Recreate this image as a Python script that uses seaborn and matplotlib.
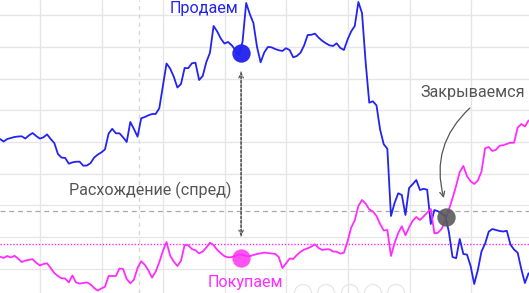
import numpy as np
import pandas as pd
import matplotlib
matplotlib.use("Agg")
import matplotlib.pyplot as plt
import seaborn as sns

# ---- data (time index, two price series in chart units) ----
sell_series = [154, 151.5, 154, 155, 156, 156.5, 156.7, 154.5, 157.6, 160,
               157, 154.4, 155.7, 158.6, 154, 150, 139, 135.4, 135.1, 129.3,
               130.6, 131.3, 131.3, 127.3, 127.5, 129.8, 135.4, 138.4, 140.6, 143.6,
               159.4, 164.2, 159.7, 159.7, 155.7, 151, 171, 164, 156.3, 174.7,
               176, 177.7, 179, 179, 184.7, 207, 229.5, 224.5, 216.3, 205.5,
               209, 225, 224.8, 229.7, 230.3, 213, 217, 231, 240.3, 267,
               261.5, 254.4, 249.5, 251, 247.8, 242.9, 238.1, 251.2, 290, 279,
               270, 246, 230.7, 240.6, 246, 245.7, 244, 242.8, 242, 244.8,
               243, 235.7, 237, 240.2, 247.5, 258, 258.2, 259.4, 255.4, 252.2,
               249.8, 247.7, 247, 249.7, 245.1, 243, 253.3, 261.5, 267, 291,
               280, 231, 190.3, 191.7, 187.6, 163.4, 148.8, 144.2, 77, 90,
               99.7, 98, 78, 105, 108.8, 113, 103, 104.2, 103.3, 69,
               83, 81.7, 79.3, 77.2, 61, 36, 34.8, 54, 39, 38.4,
               27, 9, 23, 41.5, 49.3, 61.3, 64, 63, 62, 61.5,
               62.2, 48.5, 43.5, 40.3, 24, 10, 19.7]

buy_series = [36.3, 35.1, 37, 35.5, 37.2, 34.5, 31, 32.4, 33.2, 33.8,
              30.3, 27.5, 29, 29.7, 25, 20, 17, 14.7, 14.5, 10.5,
              17.5, 10.5, 9.4, 10, 10.6, 8.7, 5, 2.5, 4.5, 6.3,
              17, 17, 17, 24.5, 24, 14, 9.7, 13.3, 25, 31.8,
              28.2, 22.5, 15.4, 21.4, 30.8, 42, 51, 37.4, 31.4, 27,
              32.2, 48, 47.7, 44, 42.7, 39.6, 41.5, 45.5, 50.3, 47.8,
              43.2, 39.8, 36.8, 35.6, 35.9, 37, 38.6, 38.2, 37, 36.8,
              38, 39, 39.7, 40.4, 40, 39.6, 39.1, 36, 25, 29.5,
              34.5, 34, 38, 41.1, 43.4, 44.7, 46.4, 48.7, 45, 43,
              43.7, 43.7, 41.5, 41.3, 39.4, 40.3, 51.4, 65.3, 72.7, 87,
              93, 89.4, 83.5, 81.6, 77, 69, 62.5, 63, 37, 50,
              60, 66.7, 57.8, 65.5, 72.3, 76, 73, 76.5, 80.4, 84,
              59.6, 60.3, 64.2, 72.6, 83.3, 94.7, 107.2, 121, 127, 117,
              111.7, 109, 112.5, 121.3, 144.7, 146, 142, 143.2, 147.3, 147.8,
              149, 150.3, 150.3, 165.4, 169, 166.5, 172.5]

t = np.arange(len(sell_series))

label_sell = "Продаем"
label_buy = "Покупаем"
label_spread = "Расхождение (спред)"
label_close = "Закрываемся"

# key moments (time index, level)
open_t = 66.6
open_sell, open_buy = 240, 35.5
close_t = 123.3
close_level = 76.5
spread_level = 82      # grey dashed reference
buy_level = 49         # magenta dotted reference
cursor_t = 38.4        # faint dashed vertical cursor

df = pd.DataFrame({"t": np.concatenate([t, t]),
                   "v": np.concatenate([sell_series, buy_series]),
                   "s": [label_sell] * len(t) + [label_buy] * len(t)})

BLUE = "#2323f2"
MAGENTA = "#ff2cff"
GREY = "#555555"

sns.set_style("white")
plt.rcParams["font.family"] = ["Roboto", "DejaVu Sans"]

fig = plt.figure(figsize=(5.29, 2.93), dpi=100)
ax = fig.add_axes([0, 0, 1, 1])
ax.set_xlim(0, 146.13)
ax.set_ylim(0, 293)

# grid
for gx in np.arange(11.05, 146, 17.02):
    ax.axvline(gx, color="#e6e6e6", lw=1.0, zorder=0)
for gy in np.arange(24.5, 293, 31.65):
    ax.axhline(gy, color="#e6e6e6", lw=1.0, zorder=0)
ax.axvline(cursor_t, color="#d8d8d8", lw=1.0, ls=(0, (3, 3)), zorder=0)
ax.axhline(spread_level, color="#a8a8a8", lw=0.9, ls=(0, (4, 3)), zorder=1)
ax.axhline(buy_level, color=MAGENTA, lw=1.0, ls=(0, (1, 1.3)), zorder=1)

sns.lineplot(data=df, x="t", y="v", hue="s", palette={label_sell: BLUE, label_buy: MAGENTA},
             lw=1.3, ax=ax, legend=False, zorder=3, estimator=None, sort=False)

# dots
ax.scatter([open_t], [open_sell], s=175, color="#2020ee", alpha=0.95, zorder=2, lw=0)
ax.scatter([open_t], [open_buy], s=175, color="#ff40f0", alpha=0.9, zorder=2, lw=0)
ax.scatter([close_t], [close_level], s=175, color="#5a5a5a", alpha=0.9, zorder=4, lw=0)

# vertical spread arrow
ax.annotate("", xy=(open_t, 221), xytext=(open_t, 57),
            arrowprops=dict(arrowstyle="->", color=GREY, lw=0.9, ls=(0, (2, 1.5)),
                            shrinkA=0, shrinkB=0, mutation_scale=8))
ax.annotate("", xy=(open_t, 57), xytext=(open_t, 221),
            arrowprops=dict(arrowstyle="->", color=GREY, lw=0.9, ls=(0, (2, 1.5)),
                            shrinkA=0, shrinkB=0, mutation_scale=8))

# curved arrow to closing point
ax.annotate("", xy=(122.6, 95), xytext=(129.8, 185),
            arrowprops=dict(arrowstyle="->", color=GREY, lw=0.9,
                            connectionstyle="arc3,rad=0.3", shrinkA=0, shrinkB=0,
                            mutation_scale=9))

# texts
fs = 11.6
ax.text(56.4, 285, label_sell, color=BLUE, fontsize=fs, ha="center", va="center")
ax.text(67.8, 11, label_buy, color=MAGENTA, fontsize=fs, ha="center", va="center")
ax.text(41.5, 103, label_spread, color=GREY, fontsize=fs, ha="center", va="center")
ax.text(130.5, 201, label_close, color=GREY, fontsize=fs, ha="center", va="center")

# faint toolbar buttons at the bottom
tb_x = np.array([303, 326, 350, 373, 396]) / 3.62
ax.scatter(tb_x, np.full(len(tb_x), 0), s=150, facecolors="none", edgecolors="#e6e6e6",
           lw=0.9, zorder=1, clip_on=True)

ax.set_axis_off()
fig.savefig("out.png", dpi=100)
